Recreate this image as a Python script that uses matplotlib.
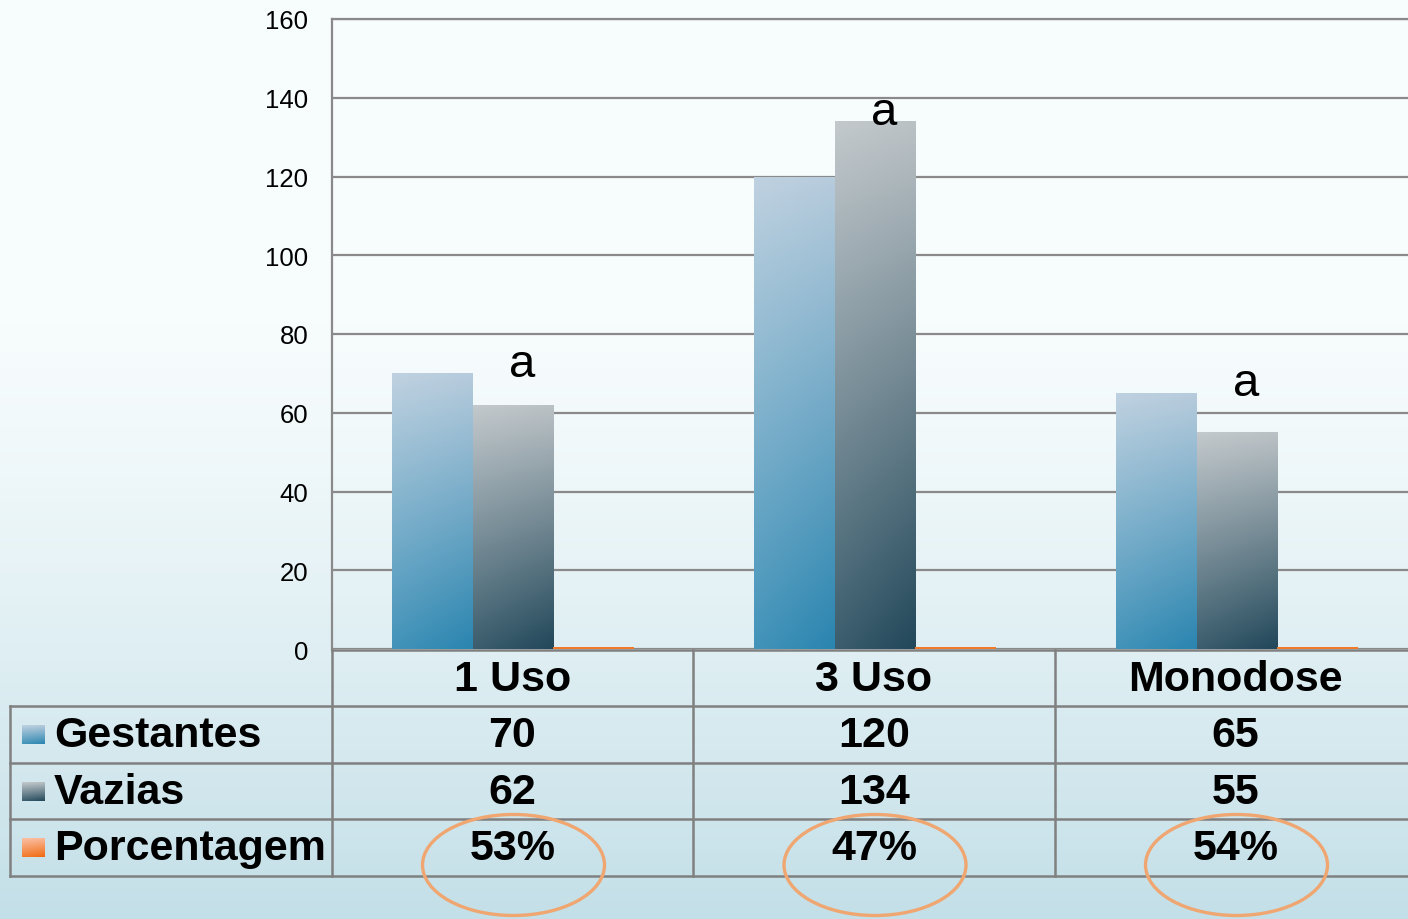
import numpy as np
import matplotlib
matplotlib.use('Agg')
import matplotlib.pyplot as plt
from matplotlib.patches import Ellipse
from matplotlib.colors import to_rgb

plt.rcParams['font.family'] = ['Liberation Sans', 'DejaVu Sans']

# Data
categorias = ['1 Uso', '3 Uso', 'Monodose']
gestantes = [70, 120, 65]
vazias = [62, 134, 55]
porcentagem = [53, 47, 54]  # %
series = ['Gestantes', 'Vazias', 'Porcentagem']
yticks = [0, 20, 40, 60, 80, 100, 120, 140, 160]

W, H = 1408, 920
fig = plt.figure(figsize=(W / 100, H / 100), dpi=100)

# background gradient
bg = fig.add_axes([0, 0, 1, 1], zorder=-2)
t = np.linspace(0, 1, 256)[:, None]
top, bot = np.array(to_rgb('#f7fcfd')), np.array(to_rgb('#c3dfe7'))
tt = np.clip((t - 0.35) / 0.65, 0, 1) ** 1.3
grad = top * (1 - tt[..., None]) + bot * tt[..., None]
grad = np.repeat(grad, 4, axis=1)
bg.imshow(grad, aspect='auto', extent=[0, 1, 0, 1])
bg.axis('off')


def gradient(c_top, c_bot, n=64):
    a = np.array(to_rgb(c_top)); b = np.array(to_rgb(c_bot))
    tv = np.linspace(0, 1, n)[:, None, None]
    sv = np.linspace(0, 1, n)[None, :, None]
    img = a * (1 - tv) + b * tv
    # slightly lighter at left
    img = img + (1 - img) * 0.12 * (1 - sv)
    return np.clip(img, 0, 1)


# main chart
ax = fig.add_axes([332 / W, 1 - 650 / H, 1086 / W, 630 / H])
ax.set_facecolor('none')
x = np.arange(len(categorias))
w = 0.223
grad_g = gradient('#b6cbdc', '#2a85b0')
grad_v = gradient('#bac1c5', '#22485a')
for vals, off, g in [(gestantes, -w, grad_g), (vazias, 0, grad_v)]:
    bars = ax.bar(x + off, vals, w, color='none', zorder=3)
    for b in bars:
        x0, wd, hh = b.get_x(), b.get_width(), b.get_height()
        im = ax.imshow(g, extent=[x0, x0 + wd, 0, hh], aspect='auto', zorder=3)
        im.set_clip_path(b)
ax.bar(x + w, np.array(porcentagem) / 100, w, color='#f07a2a', zorder=3)

# "a" marks
for i in range(len(categorias)):
    ax.text(x[i] + 0.025, max(gestantes[i], vazias[i]) + 2.5, 'a', fontsize=34,
            ha='center', va='center', zorder=4)

ax.set_xlim(-0.5, 2.5)
ax.set_ylim(0, 160)
ax.set_yticks(yticks)
ax.set_xticks([])
ax.tick_params(axis='y', length=0, pad=17, labelsize=18.5)
ax.grid(axis='y', color='#8a8a8a', lw=1.6, zorder=1)
for s in ['right', 'bottom']:
    ax.spines[s].set_visible(False)
for s in ['left', 'top']:
    ax.spines[s].set_color('#8a8a8a')
    ax.spines[s].set_linewidth(1.6)

# data table (pixel coordinates)
tb = fig.add_axes([0, 0, 1, 1], zorder=5)
tb.set_xlim(0, W); tb.set_ylim(H, 0)
tb.axis('off')
lc = '#808080'
col_x = [332, 693, 1055, 1416]
row_y = [651, 707, 764, 820, 877]
tb.plot([332, W], [651, 651], color=lc, lw=1.8)
for yy in row_y[1:]:
    tb.plot([10, W], [yy, yy], color=lc, lw=1.8)
for xx in col_x:
    tb.plot([xx, xx], [651, 877], color=lc, lw=1.8)
tb.plot([10, 10], [707, 877], color=lc, lw=1.8)

fs = 31
centers = [(col_x[i] + col_x[i + 1]) / 2 for i in range(3)]
for i, c in enumerate(categorias):
    tb.text(centers[i], 680, c, fontsize=fs, fontweight='bold', ha='center', va='center')
rows = [gestantes, vazias, [f'{p}%' for p in porcentagem]]
for r, vals in enumerate(rows):
    yc = (row_y[r + 1] + row_y[r + 2]) / 2 + 1
    for i, v in enumerate(vals):
        tb.text(centers[i], yc, str(v), fontsize=fs, fontweight='bold', ha='center', va='center')
    tb.text(54, yc, series[r], fontsize=fs, fontweight='bold', ha='left', va='center')

# legend keys
keys = [grad_g, grad_v, gradient('#fbb898', '#f06a10')]
for r, g in enumerate(keys):
    yc = (row_y[r + 1] + row_y[r + 2]) / 2
    tb.imshow(g, extent=[22, 45, yc + 10, yc - 9], aspect='auto', zorder=6)
tb.set_xlim(0, W); tb.set_ylim(H, 0)

# highlight ellipses
for i, cx in enumerate(centers):
    tb.add_patch(Ellipse((cx + 1, 866), 182, 101, fill=False, ec='#f0a670', lw=2.4, zorder=7))

fig.savefig('out.png', dpi=100)
